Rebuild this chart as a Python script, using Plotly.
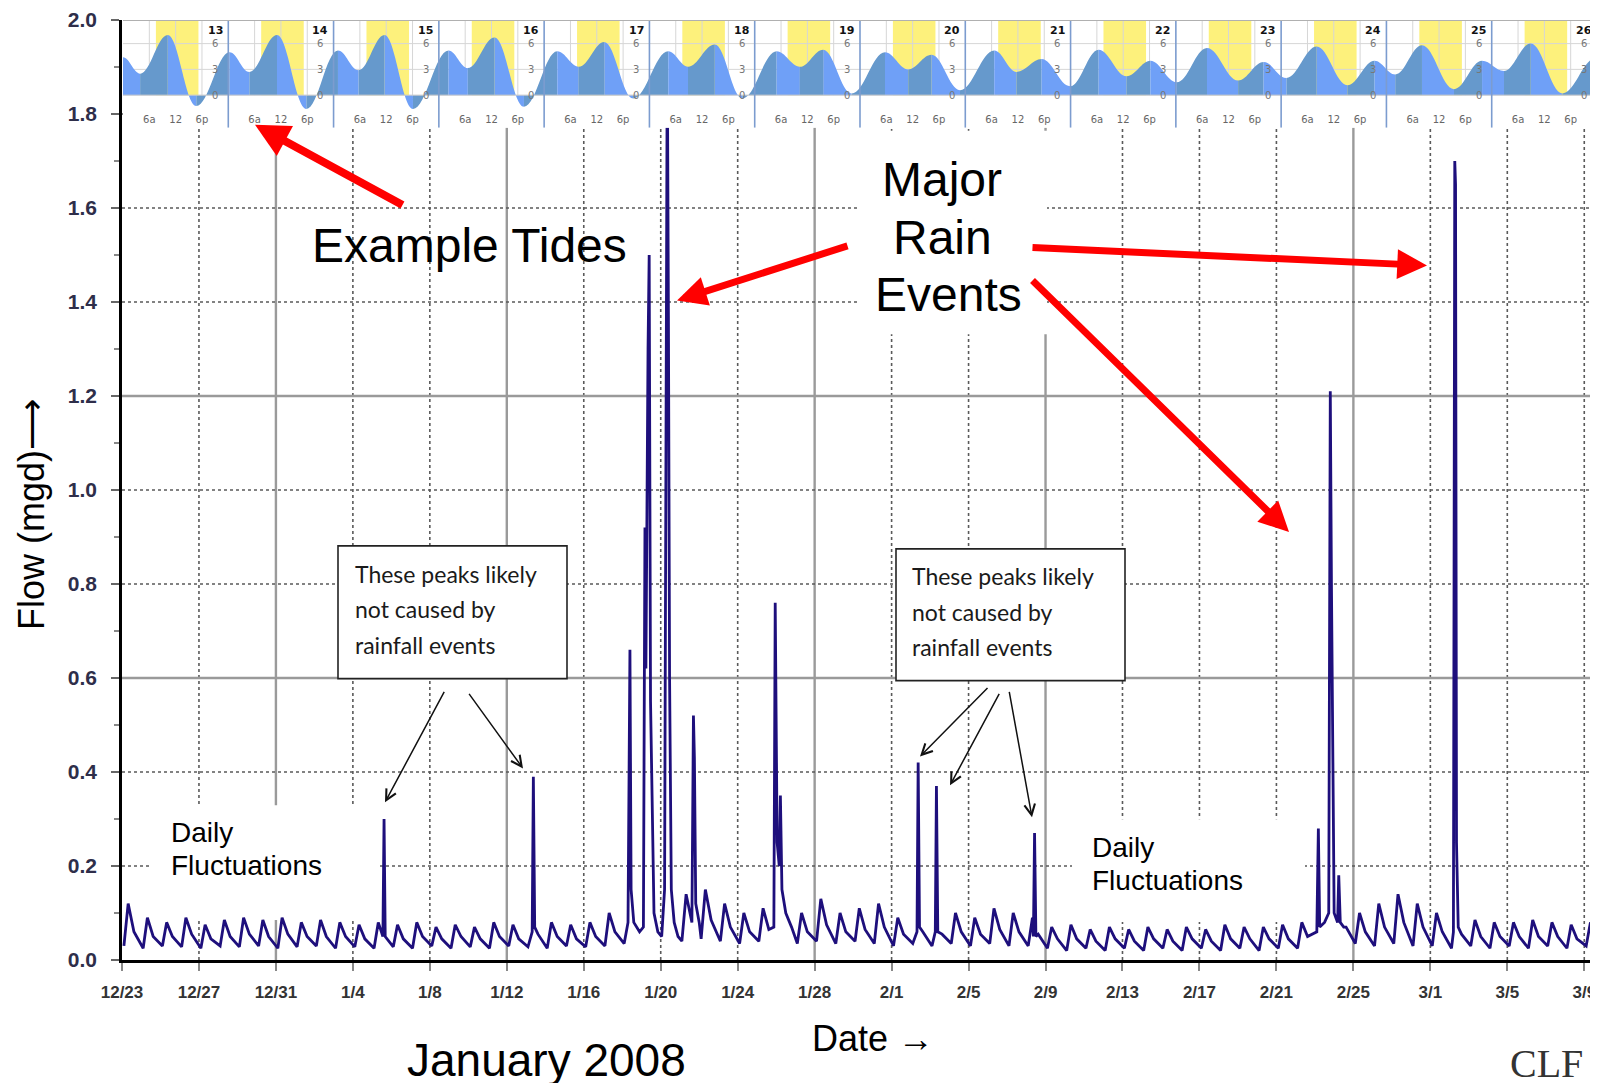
import plotly.graph_objects as go

# ---------------- data ----------------
date_labels = ["12/23", "12/27", "12/31", "1/4", "1/8", "1/12", "1/16", "1/20", "1/24", "1/28",
               "2/1", "2/5", "2/9", "2/13", "2/17", "2/21", "2/25", "3/1", "3/5", "3/9"]
tick_days = [0, 4, 8, 12, 16, 20, 24, 28, 32, 36, 40, 44, 48, 52, 56, 60, 64, 68, 72, 76]
y_ticks = [0.0, 0.2, 0.4, 0.6, 0.8, 1.0, 1.2, 1.4, 1.6, 1.8, 2.0]
y_labels = ["0.0", "0.2", "0.4", "0.6", "0.8", "1.0", "1.2", "1.4", "1.6", "1.8", "2.0"]

# daily dry-weather fluctuation (one low, one peak, one shoulder per day), mgd
day_low = [0.03, 0.025, 0.03, 0.028, 0.025, 0.03, 0.028, 0.03, 0.025, 0.028, 0.03, 0.025, 0.028,
           0.025, 0.028, 0.025, 0.03, 0.025, 0.028, 0.025, 0.03, 0.028, 0.025, 0.03, 0.028, 0.03,
           0.035, 0.04, 0.045, 0.04, 0.045, 0.04, 0.035, 0.04,
           0.04, 0.035, 0.04, 0.035, 0.04, 0.035, 0.03, 0.035, 0.03, 0.035, 0.03, 0.035, 0.03, 0.03,
           0.025, 0.02, 0.025, 0.02, 0.025, 0.02, 0.025, 0.02, 0.025, 0.02, 0.025, 0.02, 0.025, 0.025,
           0.03, 0.035, 0.035, 0.03, 0.035, 0.03, 0.03, 0.025, 0.03, 0.025, 0.03, 0.025, 0.03, 0.025, 0.03]
day_peak = [0.12, 0.09, 0.08, 0.09, 0.075, 0.085, 0.09, 0.085, 0.09, 0.08, 0.085, 0.08, 0.075,
            0.08, 0.075, 0.08, 0.07, 0.075, 0.07, 0.08, 0.075, 0.1, 0.08, 0.075, 0.08, 0.1,
            0.12, 0.15, 0.12, 0.14, 0.15, 0.12, 0.1, 0.11,
            0.12, 0.1, 0.13, 0.1, 0.11, 0.12, 0.09, 0.1, 0.09, 0.1, 0.09, 0.11, 0.1, 0.09,
            0.07, 0.075, 0.065, 0.07, 0.065, 0.07, 0.065, 0.07, 0.065, 0.075, 0.07, 0.07, 0.075, 0.08,
            0.09, 0.12, 0.1, 0.12, 0.14, 0.12, 0.1, 0.09, 0.085, 0.08, 0.08, 0.085, 0.08, 0.075, 0.08]
day_mid = [0.06, 0.05, 0.05, 0.055, 0.045, 0.05, 0.055, 0.05, 0.055, 0.05, 0.05, 0.05, 0.045,
           0.05, 0.045, 0.05, 0.045, 0.05, 0.045, 0.05, 0.045, 0.055, 0.05, 0.045, 0.05, 0.06,
           0.07, 0.08, 0.07, 0.08, 0.085, 0.07, 0.06, 0.065,
           0.07, 0.06, 0.075, 0.06, 0.065, 0.07, 0.055, 0.06, 0.055, 0.06, 0.055, 0.065, 0.06, 0.055,
           0.045, 0.045, 0.04, 0.045, 0.04, 0.045, 0.04, 0.045, 0.04, 0.045, 0.045, 0.045, 0.045, 0.05,
           0.055, 0.07, 0.06, 0.07, 0.08, 0.07, 0.06, 0.055, 0.05, 0.05, 0.05, 0.05, 0.05, 0.045, 0.05]
low_phase, peak_phase, mid_phase = 0.10, 0.32, 0.62

# storm / anomaly peaks (days after 12/23, mgd)
spike_days = [
    [13.56, 13.62, 13.68],
    [21.32, 21.38, 21.45],
    [26.30, 26.40, 26.46, 26.60, 26.90, 27.10, 27.18, 27.23, 27.28, 27.34, 27.40, 27.47, 27.55, 27.65, 27.85],
    [28.05, 28.20, 28.28, 28.34, 28.40, 28.46, 28.55, 28.70, 28.90],
    [29.62, 29.70, 29.75, 29.82, 30.00],
    [33.88, 33.95, 34.05, 34.16, 34.22, 34.30, 34.50, 34.80],
    [41.32, 41.38, 41.45],
    [42.27, 42.33, 42.40],
    [47.37, 47.43, 47.50],
    [62.10, 62.18, 62.25, 62.50, 62.72, 62.80, 62.86, 62.92, 63.00, 63.18, 63.24, 63.32, 63.50],
    [69.20, 69.27, 69.31, 69.36, 69.45],
    [76.75, 76.82, 76.90],
]
spike_flows = [
    [0.05, 0.30, 0.05],
    [0.06, 0.39, 0.07],
    [0.08, 0.66, 0.15, 0.08, 0.06, 0.07, 0.92, 0.62, 1.02, 1.30, 1.50, 0.55, 0.35, 0.10, 0.06],
    [0.05, 0.15, 1.55, 1.95, 1.37, 0.60, 0.15, 0.08, 0.05],
    [0.08, 0.52, 0.43, 0.12, 0.08],
    [0.07, 0.76, 0.25, 0.20, 0.35, 0.15, 0.10, 0.07],
    [0.06, 0.42, 0.07],
    [0.06, 0.37, 0.06],
    [0.05, 0.27, 0.05],
    [0.06, 0.28, 0.07, 0.08, 0.10, 1.21, 0.80, 0.45, 0.10, 0.08, 0.18, 0.08, 0.07],
    [0.06, 1.70, 1.65, 0.25, 0.07],
    [0.07, 0.90, 0.10],
]

# example tide inset (hours from start of day 13, feet), high/low extremes
tide_days = [13, 14, 15, 16, 17, 18, 19, 20, 21, 22, 23, 24, 25, 26]
tide_hours = [0, 3.9, 10.2, 16.7, 24.3, 28.8, 35.1, 41.8, 49.0, 53.7, 59.6, 66.1, 74.2, 78.6, 84.7,
              91.4, 99.0, 103.9, 109.7, 116.3, 124.3, 128.8, 134.9, 141.2, 149.0, 154.3, 159.6, 166.1,
              173.7, 179.0, 184.3, 190.8, 198.6, 203.7, 209.4, 215.9, 222.4, 228.8, 234.2, 240.2, 247.1,
              254.2, 260.0, 265.2, 272.1, 279.1, 285.3, 290.0, 296.1, 303.4, 309.8, 314.8, 320.9, 328.1, 335.7]
tide_ft = [4.4, 2.5, 7.0, -1.27, 5.0, 2.7, 7.0, -1.6, 5.2, 2.9, 7.0, -1.6, 5.2, 3.15, 6.7,
           -1.35, 5.1, 3.3, 6.2, -0.4, 5.1, 3.3, 5.9, -0.4, 5.1, 3.3, 5.3, 0.2,
           5.0, 3.0, 4.7, 0.58, 5.2, 2.7, 4.2, 1.04, 5.3, 2.2, 4.0, 1.5, 5.5,
           1.7, 3.85, 2.0, 5.65, 1.15, 4.0, 2.4, 5.8, 0.7, 4.0, 2.8, 6.0, 0.2, 4.3]
sunrise_h = [7.5] * 14
sunset_h = [17.2] * 14

# ---------------- geometry helpers (figure pixels) ----------------
W, H = 1598, 1083
PL, PR, PT, PB = 114, 1598, 10, 952
XMAX, YMAX = 77.13, 2.0
T_BOT, T_TOP = -3.8, 8.75


def fx(px):
    return (px - PL) / (PR - PL)


def fy(py):
    return (PB - py) / (PB - PT)


def dday(px):
    return fx(px) * XMAX


def dflow(py):
    return fy(py) * YMAX


FONT = "Liberation Sans, Arial, sans-serif"

# ---------------- build flow series ----------------
windows = [(d[0], d[-1]) for d in spike_days]
pts = []
for i in range(len(day_low)):
    for ph, val in ((low_phase, day_low[i]), (peak_phase, day_peak[i]), (mid_phase, day_mid[i])):
        t = i + ph
        if not any(a <= t <= b for a, b in windows):
            pts.append((t, val))
for ds, fs in zip(spike_days, spike_flows):
    pts.extend(zip(ds, fs))
pts.sort()
flow_x = [p[0] for p in pts]
flow_y = [p[1] for p in pts]

fig = go.Figure()
fig.add_trace(go.Scatter(x=flow_x, y=flow_y, mode="lines",
                         line=dict(color="#1e0f7c", width=2.8), xaxis="x", yaxis="y",
                         hoverinfo="skip", showlegend=False))

shapes = []
# main grid
solid_x = [8, 20, 36, 48, 64]
for d in tick_days[1:]:
    solid = d in solid_x
    shapes.append(dict(type="line", xref="x", yref="y", x0=d, x1=d, y0=0, y1=YMAX, layer="below",
                       line=dict(color="#9a9a9a" if solid else "#5a5a5a", width=2.4 if solid else 1.6,
                                 dash="solid" if solid else "dot")))
for v in y_ticks[1:-1]:
    solid = v in (0.6, 1.2)
    shapes.append(dict(type="line", xref="x", yref="y", x0=0, x1=XMAX, y0=v, y1=v, layer="below",
                       line=dict(color="#9a9a9a" if solid else "#5a5a5a", width=2.4 if solid else 1.6,
                                 dash="solid" if solid else "dot")))
# white boxes behind call-out text
for (x0, y0, x1, y1) in [(144, 797, 370, 912), (1064, 811, 1297, 914), (850, 121, 1039, 325)]:
    shapes.append(dict(type="rect", xref="x", yref="y", x0=dday(x0), x1=dday(x1), y0=dflow(y1), y1=dflow(y0),
                       layer="below", fillcolor="white", line=dict(width=0)))

# ---- tide inset (on x2/y2) ----
NH = 24 * len(tide_days)
shapes.append(dict(type="rect", xref="x2", yref="y2", x0=0, x1=NH, y0=T_BOT, y1=T_TOP, layer="below",
                   fillcolor="white", line=dict(width=0)))
for i in range(len(tide_days)):
    shapes.append(dict(type="rect", xref="x2", yref="y2", x0=24 * i + sunrise_h[i], x1=24 * i + sunset_h[i],
                       y0=0, y1=T_TOP, layer="below", fillcolor="#fdf17c", line=dict(width=0)))
for i in range(len(tide_days)):
    for hh in (6, 12, 18):
        shapes.append(dict(type="line", xref="x2", yref="y2", x0=24 * i + hh, x1=24 * i + hh, y0=0, y1=T_TOP,
                           layer="below", line=dict(color="#d6d6d6", width=1)))
for v in (3, 6):
    shapes.append(dict(type="line", xref="x2", yref="y2", x0=0, x1=NH, y0=v, y1=v, layer="below",
                       line=dict(color="#d6d6d6", width=1)))
for k in range(len(tide_hours) - 1):
    t1, h1, t2, h2 = tide_hours[k], tide_ft[k], tide_hours[k + 1], tide_ft[k + 1]
    d = t2 - t1
    path = (f"M {t1},0 L {t1},{h1} C {t1 + 0.38 * d},{h1} {t2 - 0.38 * d},{h2} {t2},{h2} "
            f"L {t2},0 Z")
    col = "#6699cc" if h2 > h1 else "#6fa0f7"
    shapes.append(dict(type="path", xref="x2", yref="y2", path=path, layer="between",
                       fillcolor=col, line=dict(width=0)))
shapes.append(dict(type="line", xref="x2", yref="y2", x0=0, x1=NH, y0=0, y1=0, layer="between",
                   line=dict(color="#c8c8c8", width=1)))
for i in range(1, len(tide_days)):
    shapes.append(dict(type="line", xref="x2", yref="y2", x0=24 * i, x1=24 * i, y0=T_BOT, y1=T_TOP,
                       layer="between", line=dict(color="#7c9ccf", width=1.6)))
shapes.append(dict(type="line", xref="x2", yref="y2", x0=0, x1=NH, y0=T_TOP, y1=T_TOP, layer="between",
                   line=dict(color="#b0b0b0", width=2)))
shapes.append(dict(type="line", xref="x2", yref="y2", x0=NH, x1=NH, y0=T_BOT, y1=T_TOP, layer="between",
                   line=dict(color="#7c9ccf", width=1.6)))

# call-out boxes (above data)
for (x0, y0, x1, y1) in [(330, 537, 559, 670), (888, 540, 1117, 672)]:
    shapes.append(dict(type="rect", xref="paper", yref="paper", x0=fx(x0), x1=fx(x1), y0=fy(y1), y1=fy(y0),
                       layer="above", fillcolor="white", line=dict(color="#222", width=1.6)))

ann = []
# tide inset labels
for i, dn in enumerate(tide_days):
    ann.append(dict(xref="x2", yref="y2", x=24 * i + 21, y=7.5, text=f"<b>{dn}</b>", showarrow=False,
                    font=dict(family="DejaVu Sans, Verdana", size=11, color="#111")))
    for v in (0, 3, 6):
        ann.append(dict(xref="x2", yref="y2", x=24 * i + 21, y=v, text=str(v), showarrow=False,
                        font=dict(family="DejaVu Sans, Verdana", size=10, color="#777")))


def text(x, y, s, size, anchor="center", family=FONT, color="#000", angle=0):
    ann.append(dict(xref="paper", yref="paper", x=fx(x), y=fy(y), text=s, showarrow=False,
                    xanchor=anchor, yanchor="middle", textangle=angle,
                    font=dict(family=family, size=size, color=color)))


text(461, 236, "Example Tides", 48)
text(934, 170, "Major", 48)
text(934, 228, "Rain", 48)
text(940, 285, "Events", 48)
text(161, 824, "Daily", 28, "left")
text(161, 857, "Fluctuations", 28, "left")
text(1082, 839, "Daily", 28, "left")
text(1082, 872, "Fluctuations", 28, "left")
for (bx, by) in [(345, 565), (902, 567.5)]:
    for j, line in enumerate(["These peaks likely", "not caused by", "rainfall events"]):
        text(bx, by + 35.5 * j, line, 23, "left", family="Lato, Open Sans, sans-serif", color="#1a1a1a")
text(24, 505, "Flow (mgd)\u27f6", 36, angle=-90)
text(865, 1031, "Date \u2192", 36)
text(538, 1052, "January 2008", 46)
ann.append(dict(xref="paper", yref="paper", x=fx(1500), y=fy(1056), text="CLF", showarrow=False,
                xanchor="left", yanchor="middle",
                font=dict(family="Liberation Serif, serif", size=40, color="#333")))


def arrow(tail, tip, color, width, head, size):
    ann.append(dict(xref="paper", yref="paper", x=fx(tip[0]), y=fy(tip[1]), text="", showarrow=True,
                    ax=tail[0] - tip[0], ay=tail[1] - tip[1], arrowcolor=color, arrowwidth=width,
                    arrowhead=head, arrowsize=size, standoff=0, startstandoff=0))


RED = "#ff0000"
arrow((396, 196), (247, 115), RED, 8, 2, 0.85)
arrow((841, 236), (669, 291), RED, 7, 2, 0.85)
arrow((1023, 238), (1419, 256), RED, 7, 2, 0.85)
arrow((1023, 270), (1281, 523), RED, 7, 2, 0.85)
arrow((437, 682), (377, 794), "#111", 1.5, 5, 1.4)
arrow((460, 684), (515, 760), "#111", 1.5, 5, 1.4)
arrow((981, 678), (912, 748), "#111", 1.5, 5, 1.4)
arrow((992, 684), (942, 777), "#111", 1.5, 5, 1.4)
arrow((1001, 682), (1024, 809), "#111", 1.5, 5, 1.4)

fig.update_layout(
    width=W, height=H, margin=dict(l=PL, r=W - PR, t=PT, b=H - PB),
    paper_bgcolor="white", plot_bgcolor="white", showlegend=False,
    shapes=shapes, annotations=ann,
    xaxis=dict(domain=[0, 1], range=[0, XMAX], tickvals=tick_days, ticktext=date_labels,
               ticks="outside", ticklen=8, tickwidth=1.5, tickcolor="#888", ticklabelstandoff=7,
               showline=True, linecolor="#000", linewidth=2.5, showgrid=False, zeroline=False,
               tickfont=dict(family=FONT, size=17, color="#333", weight="bold"), fixedrange=True),
    yaxis=dict(domain=[0, 1], range=[0, YMAX], tickvals=y_ticks, ticktext=y_labels,
               ticks="outside", ticklen=8, tickwidth=1.5, tickcolor="#666",
               minor=dict(dtick=0.1, ticks="outside", ticklen=5, tickcolor="#888"),
               showline=True, linecolor="#000", linewidth=2.5, showgrid=False, zeroline=False,
               ticklabelstandoff=10, ticklabeloverflow="allow",
               tickfont=dict(family=FONT, size=21, color="#2e2e4a", weight="bold"), fixedrange=True),
    xaxis2=dict(domain=[fx(115), fx(1589)], range=[0, NH], anchor="y2",
                tickvals=[24 * i + h for i in range(len(tide_days)) for h in (6, 12, 18)],
                ticktext=[s for i in range(len(tide_days)) for s in ("6a", "12", "6p")],
                ticklabelposition="inside", ticks="", showgrid=False, showline=False, zeroline=False,
                tickfont=dict(family="DejaVu Sans, Verdana", size=10, color="#666"), fixedrange=True),
    yaxis2=dict(domain=[fy(118), 1.0], range=[T_BOT, T_TOP], anchor="x2", showticklabels=False,
                ticks="", showgrid=False, showline=False, zeroline=False, fixedrange=True),
)

fig.write_html("out.html")
